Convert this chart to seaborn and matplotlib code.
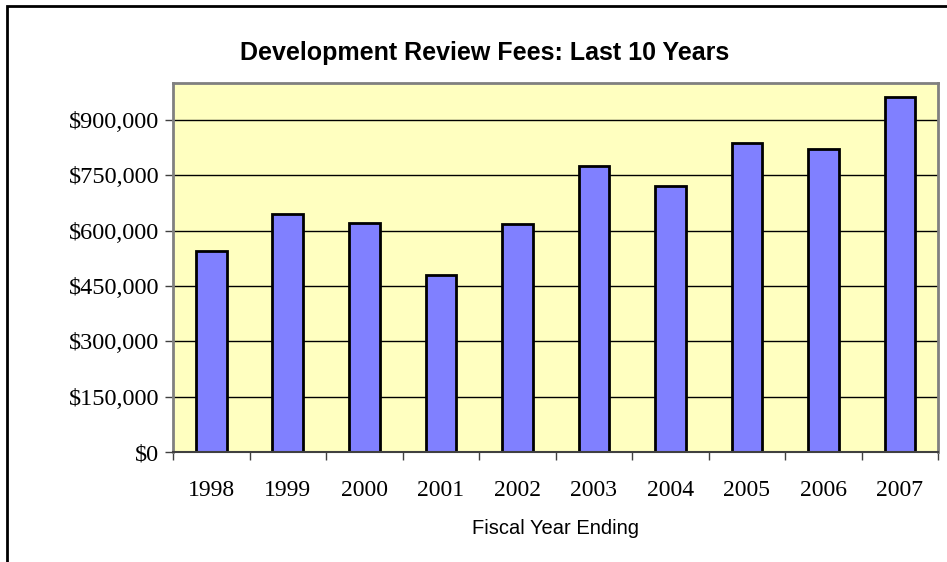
import pandas as pd
import seaborn as sns
import matplotlib.pyplot as plt
from matplotlib.patches import Rectangle
from matplotlib.ticker import FuncFormatter, FixedLocator

years = ['1998', '1999', '2000', '2001', '2002', '2003', '2004', '2005', '2006', '2007']
fees = [546000, 644000, 620000, 481000, 618000, 776000, 722000, 838000, 820000, 963000]

df = pd.DataFrame({'year': years, 'fees': fees})

fig = plt.figure(figsize=(9.47, 5.62), dpi=100)
ax = fig.add_axes([0.1827, 0.1957, 0.808, 0.6566])

sns.barplot(data=df, x='year', y='fees', color='#8080FF', saturation=1,
            edgecolor='black', linewidth=2, width=0.4, ax=ax)

ax.set_facecolor('#FFFFC0')
ax.set_ylim(0, 1000000)
ax.set_xlim(-0.5, len(years) - 0.5)
ax.yaxis.set_major_locator(FixedLocator(range(0, 1000000, 150000)))
ax.yaxis.set_major_formatter(FuncFormatter(lambda v, p: f'${int(v):,}'))
ax.yaxis.grid(True, color='black', linewidth=1)
ax.set_axisbelow(True)

# ticks sit between categories, labels under the bars
ax.xaxis.set_major_locator(FixedLocator([i - 0.5 for i in range(len(years) + 1)]))
ax.xaxis.set_major_formatter(FuncFormatter(lambda v, p: ''))
ax.xaxis.set_minor_locator(FixedLocator(range(len(years))))
ax.set_xticklabels(years, minor=True)
ax.tick_params(axis='x', which='minor', length=0, pad=20)
ax.tick_params(axis='x', which='major', length=6, width=1, color='#404040')
ax.tick_params(axis='y', length=6, width=1, color='#404040', pad=4)

for lbl in ax.get_yticklabels():
    lbl.set_fontfamily('Liberation Serif')
    lbl.set_fontsize(17.5)
for lbl in ax.get_xticklabels(minor=True):
    lbl.set_fontfamily('Liberation Serif')
    lbl.set_fontsize(17)

for side in ['left', 'top', 'right']:
    ax.spines[side].set_color('#808080')
    ax.spines[side].set_linewidth(2)
ax.spines['bottom'].set_color('#404040')
ax.spines['bottom'].set_linewidth(1.5)

ax.set_xlabel('Fiscal Year Ending', fontfamily='Liberation Sans', fontsize=14.5, labelpad=13)
ax.set_ylabel('')

fig.text(485 / 947, 1 - 53 / 562, 'Development Review Fees: Last 10 Years',
         ha='center', va='center', fontfamily='Liberation Sans',
         fontweight='bold', fontsize=18)

fig.patches.append(Rectangle((7 / 947, -0.1), 1.2, 1.1 - 6 / 562, transform=fig.transFigure,
                             fill=False, edgecolor='black', linewidth=2, clip_on=False))

fig.savefig('out.png', dpi=100)
